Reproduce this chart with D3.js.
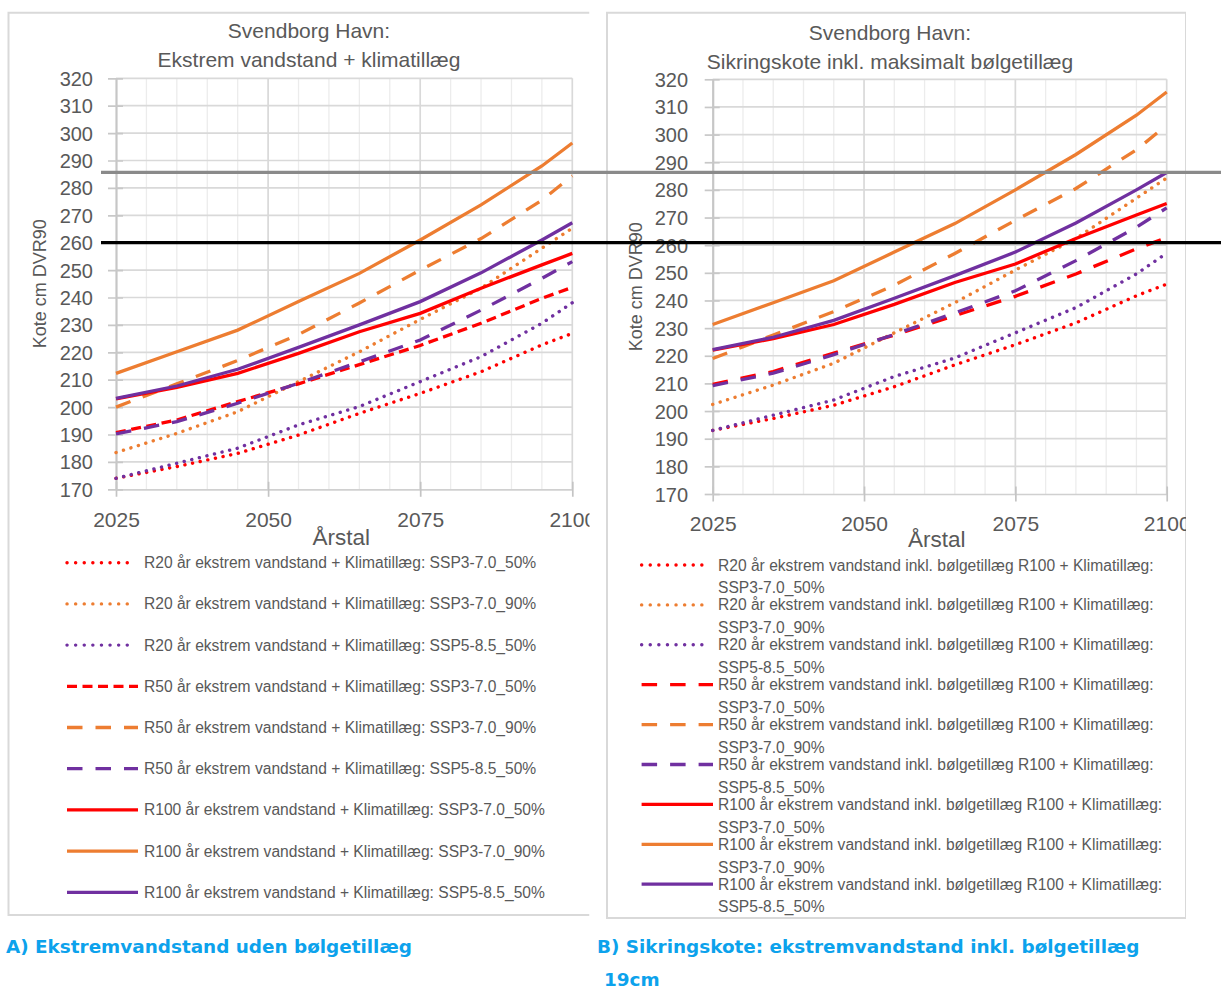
<!DOCTYPE html>
<html><head><meta charset="utf-8">
<script src="https://cdn.jsdelivr.net/npm/d3@7"></script>
<style>
body{margin:0;background:#fff;}
svg{display:block;font-family:"Liberation Sans",Arial,sans-serif;}
</style>
</head><body>
<svg id="c" width="1221" height="989"></svg>
<script>
// ---------------- DATA ----------------
const years = [2025, 2035, 2045, 2055, 2065, 2075, 2085, 2095, 2100];
const xTicks = [2025, 2050, 2075, 2100];
const yTicks = [170, 180, 190, 200, 210, 220, 230, 240, 250, 260, 270, 280, 290, 300, 310, 320];

// Panel A: Ekstrem vandstand + klimatillæg
const A_R20_370_50  = [174, 178.3, 183.1, 189.8, 197.7, 205.0, 212.9, 222.7, 226.9];
const A_R20_370_90  = [183.4, 190.4, 198.3, 209.3, 220.2, 232.0, 243.4, 258.0, 265.3];
const A_R20_585_50  = [174, 179.5, 185.0, 193.5, 200.2, 209.3, 218.4, 230.6, 238.1];
const A_R50_370_50  = [190.7, 195.3, 202.0, 208.5, 215.5, 222.5, 230.6, 239.7, 243.7];
const A_R50_370_90  = [200.0, 208.5, 217.0, 226.5, 238.0, 250.0, 261.5, 275.5, 284.4];
const A_R50_585_50  = [190.2, 194.7, 201.4, 208.7, 216.5, 224.5, 235.4, 247.0, 253.1];
const A_R100_370_50 = [203.0, 207.2, 212.3, 219.6, 227.5, 234.2, 243.4, 251.9, 256.1];
const A_R100_370_90 = [212.3, 220.2, 228.1, 238.5, 248.8, 261.0, 273.8, 288.0, 296.4];
const A_R100_585_50 = [203.2, 207.7, 213.8, 221.8, 230.0, 238.5, 249.0, 261.0, 267.3];

// Panel B: Sikringskote inkl. maksimalt bølgetillæg
const B_R20_370_50  = [193.0, 197.3, 202.1, 208.8, 216.7, 224.0, 231.9, 241.7, 245.9];
const B_R20_370_90  = [202.4, 209.4, 217.3, 228.3, 239.2, 251.0, 262.4, 277.0, 284.3];
const B_R20_585_50  = [193.0, 198.5, 204.0, 212.5, 219.2, 228.3, 237.4, 249.6, 257.1];
const B_R50_370_50  = [209.7, 214.3, 221.0, 227.5, 234.5, 241.5, 249.6, 258.7, 262.7];
const B_R50_370_90  = [219.0, 227.5, 236.0, 245.5, 257.0, 269.0, 280.5, 294.5, 303.4];
const B_R50_585_50  = [209.2, 213.7, 220.4, 227.7, 235.5, 243.5, 254.4, 266.5, 273.5];
const B_R100_370_50 = [222.0, 226.2, 231.3, 238.6, 246.5, 253.2, 262.4, 270.9, 275.1];
const B_R100_370_90 = [231.3, 239.2, 247.1, 257.5, 267.8, 280.0, 292.8, 307.0, 315.4];
const B_R100_585_50 = [222.2, 226.7, 232.8, 240.8, 249.0, 257.5, 268.0, 280.0, 286.3];

const labelsA = [
  "R20 år ekstrem vandstand + Klimatillæg: SSP3-7.0_50%",
  "R20 år ekstrem vandstand + Klimatillæg: SSP3-7.0_90%",
  "R20 år ekstrem vandstand + Klimatillæg: SSP5-8.5_50%",
  "R50 år ekstrem vandstand + Klimatillæg: SSP3-7.0_50%",
  "R50 år ekstrem vandstand + Klimatillæg: SSP3-7.0_90%",
  "R50 år ekstrem vandstand + Klimatillæg: SSP5-8.5_50%",
  "R100 år ekstrem vandstand + Klimatillæg: SSP3-7.0_50%",
  "R100 år ekstrem vandstand + Klimatillæg: SSP3-7.0_90%",
  "R100 år ekstrem vandstand + Klimatillæg: SSP5-8.5_50%"
];
const labelsB1 = [
  "R20 år ekstrem vandstand inkl. bølgetillæg R100 + Klimatillæg:",
  "R20 år ekstrem vandstand inkl. bølgetillæg R100 + Klimatillæg:",
  "R20 år ekstrem vandstand inkl. bølgetillæg R100 + Klimatillæg:",
  "R50 år ekstrem vandstand inkl. bølgetillæg R100 + Klimatillæg:",
  "R50 år ekstrem vandstand inkl. bølgetillæg R100 + Klimatillæg:",
  "R50 år ekstrem vandstand inkl. bølgetillæg R100 + Klimatillæg:",
  "R100 år ekstrem vandstand inkl. bølgetillæg R100 + Klimatillæg:",
  "R100 år ekstrem vandstand inkl. bølgetillæg R100 + Klimatillæg:",
  "R100 år ekstrem vandstand inkl. bølgetillæg R100 + Klimatillæg:"
];
const labelsB2 = ["SSP3-7.0_50%","SSP3-7.0_90%","SSP5-8.5_50%","SSP3-7.0_50%","SSP3-7.0_90%","SSP5-8.5_50%","SSP3-7.0_50%","SSP3-7.0_90%","SSP5-8.5_50%"];

const titleA = ["Svendborg Havn:", "Ekstrem vandstand + klimatillæg"];
const titleB = ["Svendborg Havn:", "Sikringskote inkl. maksimalt bølgetillæg"];
const yTitle = "Kote cm DVR90";
const xTitle = "Årstal";
const captionA = "A) Ekstremvandstand uden bølgetillæg";
const captionB1 = "B) Sikringskote: ekstremvandstand inkl. bølgetillæg";
const captionB2 = "19cm";
const refValues = [285.7, 260];   // horizontal reference lines (read on panel A scale)

// ---------------- STYLES ----------------
const RED = "#ff0000", ORANGE = "#ed7d31", PURPLE = "#7030a0";
const colors = [RED, ORANGE, PURPLE, RED, ORANGE, PURPLE, RED, ORANGE, PURPLE];
const kinds  = ["dot","dot","dot","dash","ldash","ldash","solid","solid","solid"];
const TXT = "#595959";

function styleLine(sel, color, kind, legend) {
  sel.attr("fill", "none").attr("stroke", color);
  if (kind === "dot") {
    sel.attr("stroke-width", 3.4).attr("stroke-linecap", "round")
       .attr("stroke-dasharray", legend ? "0.1 8.5" : "0.1 7.7");
  } else if (kind === "dash") {
    sel.attr("stroke-width", 3.3).attr("stroke-linecap", "butt").attr("stroke-dasharray", "10 5.5");
  } else if (kind === "ldash") {
    sel.attr("stroke-width", 3.3).attr("stroke-linecap", "butt").attr("stroke-dasharray", "15.5 13");
  } else {
    sel.attr("stroke-width", 3.3).attr("stroke-linecap", "butt");
  }
  return sel;
}

const svg = d3.select("#c");
svg.append("rect").attr("width", 1221).attr("height", 989).attr("fill", "#fff");

function drawPanel(P, series, kindsP) {
  svg.append("clipPath").attr("id", "clip" + P.id).append("rect")
    .attr("x", P.bx0 - 2).attr("y", 0).attr("width", P.bx1 - P.bx0 + 2).attr("height", 989);
  const g = svg.append("g").attr("clip-path", `url(#clip${P.id})`);

  // border
  const bpath = P.openRight
    ? `M${P.bx1},${P.by0}H${P.bx0}V${P.by1}H${P.bx1}`
    : `M${P.bx0},${P.by0}H${P.bx1}V${P.by1}H${P.bx0}Z`;
  g.append("path").attr("d", bpath).attr("fill", "none").attr("stroke", "#d9d9d9").attr("stroke-width", 2);

  const x = d3.scaleLinear().domain([2025, 2100]).range([P.px0, P.px1]);
  const y = d3.scaleLinear().domain([170, 320]).range([P.py0, P.py1]);

  // minor vertical gridlines every 5 years
  const minor = d3.range(2030, 2100, 5).filter(v => !xTicks.includes(v));
  g.append("g").selectAll("line").data(minor).join("line")
    .attr("x1", d => x(d)).attr("x2", d => x(d)).attr("y1", y(320)).attr("y2", y(170))
    .attr("stroke", "#ececec").attr("stroke-width", 1.3);
  // horizontal gridlines
  g.append("g").selectAll("line").data(yTicks.filter(v => v > 170)).join("line")
    .attr("x1", x(2025)).attr("x2", x(2100)).attr("y1", d => y(d)).attr("y2", d => y(d))
    .attr("stroke", "#d9d9d9").attr("stroke-width", 1.7);
  // major vertical gridlines
  g.append("g").selectAll("line").data(xTicks.slice(1)).join("line")
    .attr("x1", d => x(d)).attr("x2", d => x(d)).attr("y1", y(320)).attr("y2", y(170))
    .attr("stroke", "#d9d9d9").attr("stroke-width", 1.7);

  // x axis
  const xa = g.append("g").attr("transform", `translate(0,${y(170)})`)
    .call(d3.axisBottom(x).tickValues(xTicks).tickFormat(d3.format("d")).tickSizeOuter(0).tickSizeInner(7.5));
  xa.select(".domain").attr("stroke", "#d0d0d0").attr("stroke-width", 1.7);
  xa.selectAll(".tick line").attr("y1", -7.5).attr("y2", 7.5).attr("stroke", "#c4c4c4").attr("stroke-width", 1.7);
  xa.selectAll(".tick text").attr("y", P.xLabBase - y(170)).attr("dy", null)
    .attr("fill", TXT).attr("font-size", 21).attr("font-family", "Liberation Sans, Arial, sans-serif");

  // y axis
  const ya = g.append("g").attr("transform", `translate(${x(2025)},0)`)
    .call(d3.axisLeft(y).tickValues(yTicks).tickFormat(d3.format("d")).tickSizeOuter(0).tickSizeInner(8).tickPadding(P.yPad));
  ya.select(".domain").attr("stroke", "#c6c6c6").attr("stroke-width", 2.2);
  ya.selectAll(".tick line").attr("x1", 7).attr("x2", -8).attr("stroke", "#c8c8c8").attr("stroke-width", 1.7);
  ya.selectAll(".tick text").attr("fill", TXT).attr("font-size", 20).attr("dy", "0.35em")
    .attr("font-family", "Liberation Sans, Arial, sans-serif");

  // series
  const line = d3.line().x((d, i) => x(years[i])).y(d => y(d));
  series.forEach((s, i) => {
    styleLine(g.append("path").datum(s).attr("d", line), colors[i], kindsP[i], false);
  });

  // titles
  P.title.forEach((t, i) => {
    g.append("text").attr("x", P.titleX).attr("y", P.titleY[i]).attr("text-anchor", "middle")
      .attr("fill", TXT).attr("font-size", 21).text(t);
  });
  g.append("text").attr("transform", `translate(${P.yTitleX},${(y(170) + y(320)) / 2}) rotate(-90)`)
    .attr("text-anchor", "middle").attr("fill", TXT).attr("font-size", 18).text(yTitle);
  g.append("text").attr("x", (x(2025) + x(2100)) / 2 - 3).attr("y", P.xTitleY).attr("text-anchor", "middle")
    .attr("fill", TXT).attr("font-size", 22.5).text(xTitle);

  // legend
  series.forEach((s, i) => {
    const cy = P.legY0 + i * P.legStep;
    const len = kindsP[i] === "dot" ? P.legDotLen : P.legLen;
    styleLine(g.append("line").attr("x1", P.legX0).attr("x2", P.legX0 + len).attr("y1", cy).attr("y2", cy),
      colors[i], kindsP[i], true);
    P.legLabels.forEach((arr, k) => {
      g.append("text").attr("x", P.legTextX).attr("y", cy + 5.5 + k * P.legLine2)
        .attr("fill", TXT).attr("font-size", 15.6).text(arr[i]);
    });
  });
  return {x, y};
}

const A = drawPanel({
  id: "A", bx0: 8.5, by0: 12.7, bx1: 589.5, by1: 915, openRight: true,
  px0: 116, px1: 572.3, py0: 489.3, py1: 78.3, yPad: 15, xLabBase: 527,
  title: titleA, titleX: 309, titleY: [37.5, 66.7], yTitleX: 46, xTitleY: 545,
  legX0: 67, legLen: 71, legDotLen: 68, legTextX: 144, legY0: 562.7, legStep: 41.2, legLine2: 0,
  legLabels: [labelsA]
}, [A_R20_370_50, A_R20_370_90, A_R20_585_50, A_R50_370_50, A_R50_370_90, A_R50_585_50, A_R100_370_50, A_R100_370_90, A_R100_585_50], kinds);

const B = drawPanel({
  id: "B", bx0: 607, by0: 12.7, bx1: 1186, by1: 918, openRight: false,
  px0: 712.7, px1: 1166.7, py0: 494, py1: 79.3, yPad: 16.7, xLabBase: 531,
  title: titleB, titleX: 890, titleY: [40, 69], yTitleX: 641.5, xTitleY: 547,
  legX0: 641.6, legLen: 71.4, legDotLen: 68, legTextX: 718, legY0: 565, legStep: 39.9, legLine2: 22.7,
  legLabels: [labelsB1, labelsB2]
}, [B_R20_370_50, B_R20_370_90, B_R20_585_50, B_R50_370_50, B_R50_370_90, B_R50_585_50, B_R100_370_50, B_R100_370_90, B_R100_585_50],
  ["dot","dot","dot","ldash","ldash","ldash","solid","solid","solid"]);

// reference lines across the whole figure
svg.append("g").selectAll("line").data(refValues).join("line")
  .attr("x1", 101).attr("x2", 1221).attr("y1", d => A.y(d)).attr("y2", d => A.y(d))
  .attr("stroke", (d, i) => i === 0 ? "#8a8a8a" : "#000").attr("stroke-width", 3.3);

// captions
const cap = svg.append("g").attr("font-family", "DejaVu Sans, Verdana, sans-serif")
  .attr("font-weight", "bold").attr("font-size", 18.4).attr("fill", "#0ca2ec");
cap.append("text").attr("x", 6).attr("y", 953).text(captionA);
cap.append("text").attr("x", 597).attr("y", 953).text(captionB1);
cap.append("text").attr("x", 604).attr("y", 986).text(captionB2);
</script>
</body></html>
